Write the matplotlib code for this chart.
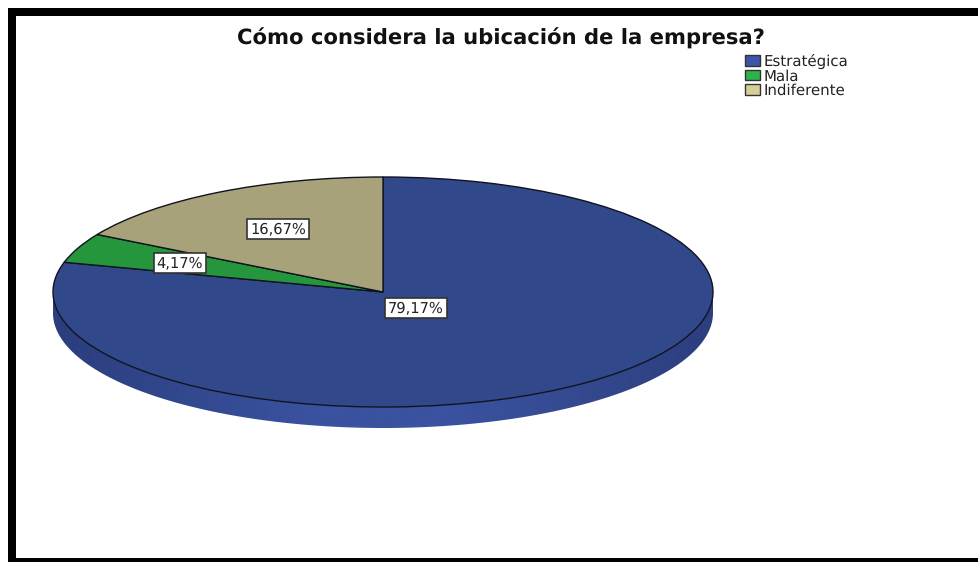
import numpy as np
import matplotlib
matplotlib.use("Agg")
import matplotlib.pyplot as plt
from matplotlib.patches import Patch, Polygon, Rectangle
from matplotlib.colors import LinearSegmentedColormap

plt.rcParams["text.hinting"] = "no_hinting"

W, H = 979, 562

title = "Cómo considera la ubicación de la empresa?"
categories = ["Estratégica", "Mala", "Indiferente"]
percentages = [79.17, 4.17, 16.67]
top_colors = ["#31488a", "#26963c", "#a8a27a"]
legend_colors = ["#3c55a6", "#2cb34c", "#d6d096"]
label_boxes = [(416, 308), (180, 263), (278, 229)]

fig = plt.figure(figsize=(W / 100, H / 100), dpi=100, facecolor="white")


def fig_xy(x, y):
    return x / W, 1 - y / H


# Pie axes: the ellipse comes from stretching a unit pie to the axes box
cx, cy, rx, ry, depth = 383, 292, 330, 115, 21
margin = 3
left, right = cx - rx - margin, cx + rx + margin
top, bottom = cy - ry - margin, cy + ry + depth + margin
ax = fig.add_axes([left / W, 1 - bottom / H, (right - left) / W, (bottom - top) / H])

wedges, _ = ax.pie(
    percentages,
    colors=top_colors,
    startangle=90,
    counterclock=False,
    radius=1,
    normalize=True,
    wedgeprops={"edgecolor": "#10131f", "linewidth": 1.0},
)
ax.axis("off")

# Rim below the front half of the pie, shaded across its width
d = depth / ry
theta = np.linspace(np.pi, 2 * np.pi, 240)
upper = np.column_stack([np.cos(theta), np.sin(theta)])
lower = np.column_stack([np.cos(theta[::-1]), np.sin(theta[::-1]) - d])
rim_outline = np.vstack([[-1, 0], upper, [1, 0], [1, -d], lower, [-1, -d]])
rim = Polygon(rim_outline, closed=True, facecolor="none", edgecolor="none",
              transform=ax.transData)
ax.add_patch(rim)
rim_cmap = LinearSegmentedColormap.from_list(
    "rim", ["#2b3d7c", "#32488f", "#3a52a0", "#3a52a0", "#34498f", "#2c3e7e"]
)
shade = ax.imshow(
    np.linspace(0, 1, 256)[None, :],
    extent=(-1, 1, -1 - d, 0),
    cmap=rim_cmap,
    aspect="auto",
    zorder=0.5,
)
shade.set_clip_path(rim)
ax.set_xlim((left - cx) / rx, (right - cx) / rx)
ax.set_ylim((cy - bottom) / ry, (cy - top) / ry)
ax.set_aspect("auto")

# Percentage labels in small white boxes
for value, (x, y) in zip(percentages, label_boxes):
    fx, fy = fig_xy(x, y)
    fig.text(
        fx, fy, f"{value:.2f}%".replace(".", ","),
        ha="center", va="center", fontsize=10.5, family="DejaVu Sans", color="#222222",
        bbox={"boxstyle": "square,pad=0.2", "facecolor": "white",
              "edgecolor": "#333333", "linewidth": 1.2},
        zorder=5,
    )

tx, ty = fig_xy(500.5, 38)
fig.text(tx, ty, title, ha="center", va="center", fontsize=15.25,
         fontweight="bold", family="DejaVu Sans", color="#111111")

handles = [Patch(facecolor=c, edgecolor="#333333", linewidth=1.0) for c in legend_colors]
lx, ly = fig_xy(745, 54)
fig.legend(
    handles, categories,
    loc="upper left", bbox_to_anchor=(lx, ly), frameon=False,
    prop={"family": "DejaVu Sans", "size": 10.85},
    labelspacing=-0.01, handlelength=0.98, handleheight=0.7, handletextpad=0.26,
    borderpad=0, borderaxespad=0,
    labelcolor="#222222",
)

# Heavy black frame on the top, left and bottom sides
frame = [(8, 8, W - 8, 8), (8, 8, 8, H - 8), (8, 558, W - 8, 4)]
for x, y, w, h in frame:
    fig.add_artist(Rectangle((x / W, 1 - (y + h) / H), w / W, h / H,
                             transform=fig.transFigure, facecolor="black",
                             edgecolor="none"))

fig.savefig("out.png", dpi=100, facecolor="white")
